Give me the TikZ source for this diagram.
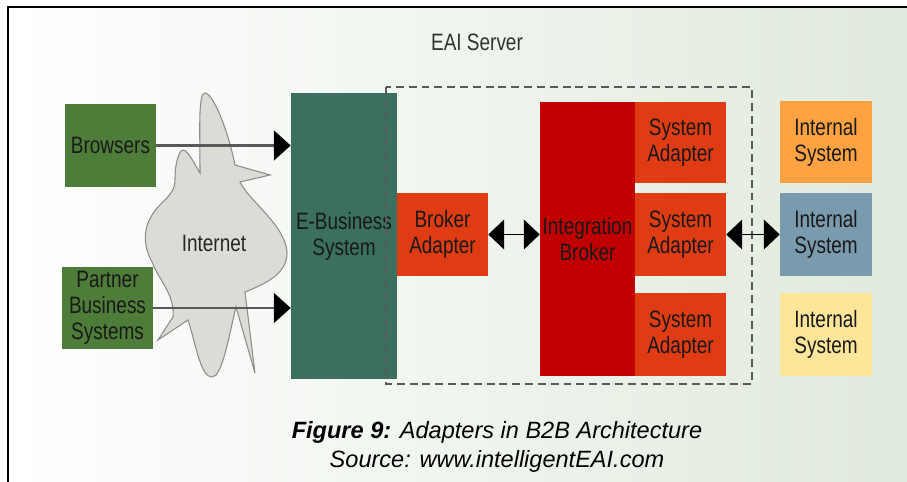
\documentclass[tikz,border=0pt]{standalone}
\usepackage{fontspec}
\setmainfont{Liberation Sans}
\newfontfamily\condfont[FakeStretch=0.8]{Liberation Sans}
\usetikzlibrary{arrows.meta}

\definecolor{bggreen}{RGB}{224,234,220}
\definecolor{clientgreen}{RGB}{78,125,58}
\definecolor{ebizteal}{RGB}{59,112,96}
\definecolor{adapterred}{RGB}{224,60,20}
\definecolor{brokerred}{RGB}{192,0,0}
\definecolor{intorange}{RGB}{255,162,66}
\definecolor{intblue}{RGB}{122,155,173}
\definecolor{intyellow}{RGB}{253,229,154}
\definecolor{cloudgrey}{RGB}{220,220,214}

\begin{document}
\begin{tikzpicture}[x=0.02cm,y=-0.02cm,
  box/.style={minimum width=1.82cm, minimum height=1.66cm, inner sep=0pt, align=center,
    font=\condfont\fontsize{13.5}{14.7}\selectfont, text=black!90},
  feed/.style={draw=black!65, line width=1.5pt, -{Triangle[length=9.6pt,width=17pt,color=black]}},
  both/.style={draw=black, line width=0.6pt, {Triangle[length=9pt,width=17pt]}-{Triangle[length=9pt,width=17pt]}},
  eaiframe/.style={draw=black!65, line width=0.8pt, dash pattern=on 4.5pt off 2.8pt}]

\useasboundingbox (0,0) rectangle (907,482);
\fill[white] (0,0) rectangle (907,482);
\shade[left color=white, right color=bggreen] (8,7) rectangle (907,482);
\draw[black, line width=1.2pt] (8,482) -- (8,7) -- (907,7);

\node[font=\condfont\fontsize{13.5}{15}\selectfont, text=black!80] (eai) at (477,42) {EAI Server};

% internet cloud
\draw[draw=black!45, fill=cloudgrey, line width=0.6pt]
  (200,173) .. controls (200,130) and (198,93) .. (205,93)
  .. controls (213,93) and (228,130) .. (235,165)
  -- (270,175) -- (240,182)
  .. controls (250,202) and (285,225) .. (287,252)
  .. controls (288,275) and (262,285) .. (245,292)
  -- (255,373) -- (236,307)
  .. controls (228,340) and (222,377) .. (212,377)
  .. controls (200,377) and (195,340) .. (188,320)
  -- (158,340) -- (173,317)
  .. controls (175,295) and (160,282) .. (152,262)
  .. controls (140,240) and (145,220) .. (160,205)
  .. controls (170,195) and (175,190) .. (175,180)
  .. controls (175,160) and (180,150) .. (183,150)
  .. controls (188,150) and (195,165) .. (200,173) -- cycle;
\node[font=\condfont\fontsize{13.5}{15}\selectfont, text=black!85] (internet) at (214,243) {Internet};

\node[box, fill=clientgreen] (browsers) at (110.5,145.5) {Browsers};
\node[box, fill=clientgreen, minimum height=1.64cm] (partner) at (107.5,308) {Partner\\Business\\Systems};

\node[box, fill=ebizteal, minimum width=2.12cm, minimum height=5.72cm] (ebiz) at (344,236) {E-Business\\System};

\node[box, fill=adapterred] (broker) at (442.5,234.5) {Broker\\Adapter};
\node[box, fill=brokerred, minimum width=1.9cm, minimum height=5.48cm] (ib) at (587.5,239) {Integration\\Broker};
\node[box, fill=adapterred, minimum height=1.62cm] (sa1) at (680.5,142.5) {System\\Adapter};
\node[box, fill=adapterred] (sa2) at (680.5,234.5) {System\\Adapter};
\node[box, fill=adapterred] (sa3) at (680.5,334.5) {System\\Adapter};

\node[box, fill=intorange, minimum width=1.84cm, minimum height=1.64cm] (int1) at (826,142) {Internal\\System};
\node[box, fill=intblue, minimum width=1.84cm] (int2) at (826,234.5) {Internal\\System};
\node[box, fill=intyellow, minimum width=1.84cm] (int3) at (826,334.5) {Internal\\System};

\draw[eaiframe] (386,87) rectangle (752,384);

\draw[feed] (browsers.east) -- (browsers.east -| ebiz.west);
\draw[feed] (partner.east) -- (partner.east -| ebiz.west);
\draw[both] (broker.east) -- (broker.east -| ib.west);
\draw[both] (sa2.east) -- (int2.west);

\node[font=\fontsize{13.4}{16.4}\selectfont\itshape, align=center] (caption) at (497,447)
  {\textbf{Figure 9:} Adapters in B2B Architecture\\Source: www.intelligentEAI.com};
\end{tikzpicture}
\end{document}
